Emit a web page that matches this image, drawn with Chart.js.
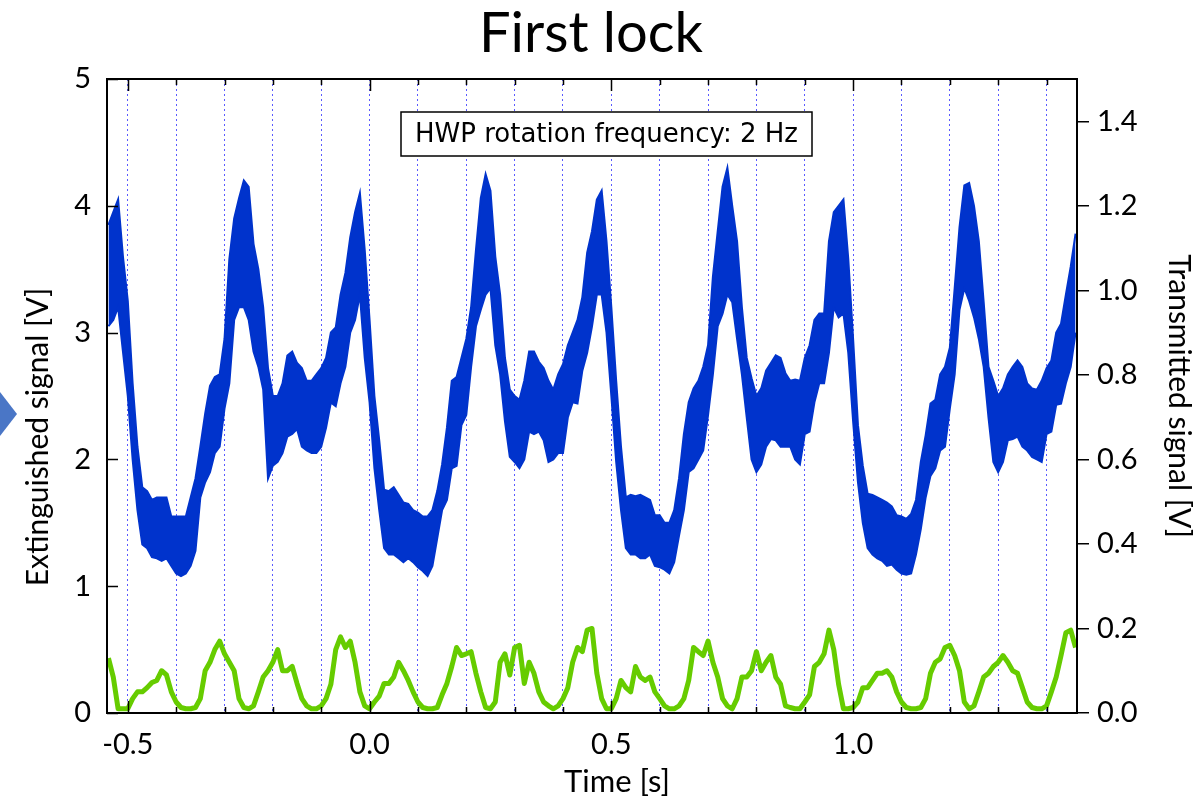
<!DOCTYPE html>
<html>
<head>
<meta charset="utf-8">
<script src="https://cdn.jsdelivr.net/npm/chart.js@4.4.1/dist/chart.umd.min.js"></script>
<style>
  body { margin: 0; background: #fff; }
  #wrap { width: 1203px; height: 801px; }
</style>
</head>
<body>
<div id="wrap"><canvas id="lockChart" width="1203" height="801"></canvas></div>
<script>
// time axis samples [s], every 10 ms
const times = [
  -0.54, -0.53, -0.52, -0.51, -0.50, -0.49, -0.48, -0.47, -0.46, -0.45,
  -0.44, -0.43, -0.42, -0.41, -0.40, -0.39, -0.38, -0.37, -0.36, -0.35,
  -0.34, -0.33, -0.32, -0.31, -0.30, -0.29, -0.28, -0.27, -0.26, -0.25,
  -0.24, -0.23, -0.22, -0.21, -0.20, -0.19, -0.18, -0.17, -0.16, -0.15,
  -0.14, -0.13, -0.12, -0.11, -0.10, -0.09, -0.08, -0.07, -0.06, -0.05,
  -0.04, -0.03, -0.02, -0.01, 0.00, 0.01, 0.02, 0.03, 0.04, 0.05,
  0.06, 0.07, 0.08, 0.09, 0.10, 0.11, 0.12, 0.13, 0.14, 0.15,
  0.16, 0.17, 0.18, 0.19, 0.20, 0.21, 0.22, 0.23, 0.24, 0.25,
  0.26, 0.27, 0.28, 0.29, 0.30, 0.31, 0.32, 0.33, 0.34, 0.35,
  0.36, 0.37, 0.38, 0.39, 0.40, 0.41, 0.42, 0.43, 0.44, 0.45,
  0.46, 0.47, 0.48, 0.49, 0.50, 0.51, 0.52, 0.53, 0.54, 0.55,
  0.56, 0.57, 0.58, 0.59, 0.60, 0.61, 0.62, 0.63, 0.64, 0.65,
  0.66, 0.67, 0.68, 0.69, 0.70, 0.71, 0.72, 0.73, 0.74, 0.75,
  0.76, 0.77, 0.78, 0.79, 0.80, 0.81, 0.82, 0.83, 0.84, 0.85,
  0.86, 0.87, 0.88, 0.89, 0.90, 0.91, 0.92, 0.93, 0.94, 0.95,
  0.96, 0.97, 0.98, 0.99, 1.00, 1.01, 1.02, 1.03, 1.04, 1.05,
  1.06, 1.07, 1.08, 1.09, 1.10, 1.11, 1.12, 1.13, 1.14, 1.15,
  1.16, 1.17, 1.18, 1.19, 1.20, 1.21, 1.22, 1.23, 1.24, 1.25,
  1.26, 1.27, 1.28, 1.29, 1.30, 1.31, 1.32, 1.33, 1.34, 1.35,
  1.36, 1.37, 1.38, 1.39, 1.40, 1.41, 1.42, 1.43, 1.44, 1.45,
  1.46
];

// extinguished signal, upper edge of the noisy trace [V]
const extUpper = [
  3.85, 3.95, 4.05, 3.60, 3.25, 2.60, 2.10, 1.78, 1.75, 1.68,
  1.70, 1.70, 1.70, 1.55, 1.55, 1.55, 1.55, 1.70, 1.85, 2.10,
  2.36, 2.58, 2.65, 2.67, 2.95, 3.58, 3.90, 4.06, 4.20, 4.15,
  3.70, 3.50, 3.20, 2.72, 2.50, 2.50, 2.60, 2.82, 2.85, 2.76,
  2.72, 2.62, 2.62, 2.67, 2.72, 2.80, 3.00, 3.04, 3.30, 3.47,
  3.75, 3.95, 4.10, 3.65, 3.10, 2.50, 2.15, 1.76, 1.75, 1.78,
  1.72, 1.66, 1.65, 1.60, 1.58, 1.55, 1.55, 1.60, 1.75, 1.96,
  2.25, 2.62, 2.65, 2.80, 2.95, 3.20, 3.65, 4.06, 4.25, 4.12,
  3.60, 3.30, 2.80, 2.55, 2.50, 2.47, 2.62, 2.85, 2.85, 2.77,
  2.72, 2.62, 2.55, 2.67, 2.75, 2.90, 3.00, 3.10, 3.28, 3.63,
  3.80, 4.05, 4.12, 3.72, 3.20, 2.62, 2.10, 1.70, 1.72, 1.71,
  1.72, 1.70, 1.68, 1.56, 1.56, 1.50, 1.50, 1.60, 1.85, 2.20,
  2.45, 2.56, 2.62, 2.73, 2.90, 3.44, 3.80, 4.15, 4.30, 4.00,
  3.72, 3.20, 2.80, 2.64, 2.50, 2.56, 2.70, 2.76, 2.82, 2.80,
  2.68, 2.62, 2.63, 2.62, 2.80, 2.90, 3.10, 3.15, 3.15, 3.72,
  3.95, 4.00, 4.05, 3.58, 2.95, 2.27, 1.95, 1.73, 1.72, 1.70,
  1.68, 1.66, 1.63, 1.56, 1.55, 1.53, 1.57, 1.68, 1.98, 2.19,
  2.44, 2.47, 2.67, 2.73, 2.88, 3.35, 3.83, 4.16, 4.18, 4.00,
  3.72, 3.24, 2.73, 2.62, 2.50, 2.56, 2.67, 2.73, 2.78, 2.73,
  2.60, 2.56, 2.55, 2.62, 2.72, 2.78, 3.00, 3.07, 3.30, 3.52,
  3.78
];

// extinguished signal, lower edge of the noisy trace [V]
const extLower = [
  3.05, 3.10, 3.20, 2.85, 2.50, 2.00, 1.60, 1.33, 1.30, 1.23,
  1.22, 1.20, 1.22, 1.16, 1.10, 1.08, 1.10, 1.16, 1.28, 1.70,
  1.82, 1.90, 2.05, 2.10, 2.40, 2.60, 3.10, 3.20, 3.20, 3.10,
  2.85, 2.73, 2.55, 1.85, 1.95, 1.98, 2.05, 2.18, 2.20, 2.24,
  2.10, 2.07, 2.05, 2.05, 2.10, 2.25, 2.45, 2.42, 2.60, 2.73,
  3.00, 3.10, 3.30, 2.80, 2.45, 1.93, 1.60, 1.30, 1.25, 1.25,
  1.22, 1.19, 1.22, 1.19, 1.15, 1.12, 1.08, 1.16, 1.38, 1.60,
  1.68, 1.93, 1.95, 2.27, 2.35, 2.73, 3.05, 3.18, 3.30, 3.35,
  2.90, 2.67, 2.30, 2.02, 1.98, 1.93, 2.00, 2.22, 2.20, 2.22,
  2.15, 1.98, 2.00, 2.05, 2.05, 2.33, 2.45, 2.44, 2.70, 2.84,
  3.05, 3.30, 3.30, 3.00, 2.50, 1.98, 1.60, 1.30, 1.25, 1.25,
  1.22, 1.22, 1.25, 1.16, 1.15, 1.13, 1.10, 1.19, 1.40, 1.60,
  1.90, 1.93, 2.00, 2.07, 2.35, 2.67, 3.05, 3.15, 3.30, 3.24,
  2.95, 2.67, 2.33, 2.00, 1.90, 1.96, 2.10, 2.16, 2.15, 2.10,
  2.10, 2.10, 2.00, 1.96, 2.20, 2.22, 2.45, 2.60, 2.60, 2.84,
  3.20, 3.12, 3.15, 2.84, 2.30, 1.82, 1.50, 1.30, 1.25, 1.22,
  1.20, 1.16, 1.17, 1.13, 1.10, 1.09, 1.10, 1.25, 1.45, 1.70,
  1.87, 1.93, 2.07, 2.10, 2.40, 2.67, 3.18, 3.35, 3.25, 3.12,
  2.95, 2.73, 2.33, 1.98, 1.90, 1.98, 2.15, 2.16, 2.18, 2.10,
  2.07, 2.02, 2.00, 1.98, 2.20, 2.22, 2.43, 2.44, 2.60, 2.73,
  3.00
];

// transmitted signal [V] (right axis)
const transmitted = [
  0.130, 0.085, 0.010, 0.010, 0.010, 0.034, 0.050, 0.050, 0.060, 0.072,
  0.077, 0.100, 0.090, 0.050, 0.026, 0.013, 0.010, 0.010, 0.013, 0.034,
  0.100, 0.120, 0.150, 0.170, 0.140, 0.120, 0.100, 0.034, 0.013, 0.010,
  0.017, 0.050, 0.085, 0.100, 0.120, 0.150, 0.100, 0.100, 0.110, 0.070,
  0.034, 0.017, 0.010, 0.010, 0.017, 0.034, 0.068, 0.150, 0.180, 0.155,
  0.170, 0.120, 0.050, 0.017, 0.010, 0.026, 0.040, 0.070, 0.070, 0.085,
  0.120, 0.100, 0.077, 0.050, 0.026, 0.013, 0.010, 0.010, 0.013, 0.043,
  0.070, 0.110, 0.155, 0.136, 0.140, 0.145, 0.094, 0.050, 0.013, 0.010,
  0.026, 0.120, 0.140, 0.090, 0.155, 0.160, 0.070, 0.120, 0.094, 0.050,
  0.026, 0.017, 0.010, 0.017, 0.034, 0.060, 0.120, 0.155, 0.145, 0.196,
  0.200, 0.094, 0.034, 0.010, 0.010, 0.034, 0.077, 0.060, 0.050, 0.110,
  0.085, 0.077, 0.085, 0.050, 0.034, 0.017, 0.010, 0.010, 0.017, 0.034,
  0.077, 0.155, 0.145, 0.136, 0.170, 0.120, 0.085, 0.034, 0.017, 0.010,
  0.034, 0.085, 0.085, 0.100, 0.145, 0.100, 0.120, 0.136, 0.085, 0.068,
  0.017, 0.013, 0.010, 0.010, 0.026, 0.043, 0.110, 0.120, 0.140, 0.196,
  0.150, 0.068, 0.010, 0.010, 0.013, 0.026, 0.060, 0.060, 0.077, 0.094,
  0.094, 0.100, 0.085, 0.050, 0.026, 0.013, 0.010, 0.010, 0.013, 0.034,
  0.094, 0.120, 0.128, 0.155, 0.160, 0.136, 0.100, 0.026, 0.010, 0.017,
  0.050, 0.085, 0.094, 0.110, 0.120, 0.136, 0.120, 0.100, 0.094, 0.060,
  0.026, 0.013, 0.010, 0.010, 0.017, 0.050, 0.085, 0.136, 0.190, 0.196,
  0.155
];

const xTicks = [-0.5, -0.4, -0.3, -0.2, -0.1, 0.0, 0.1, 0.2, 0.3, 0.4,
                0.5, 0.6, 0.7, 0.8, 0.9, 1.0, 1.1, 1.2, 1.3, 1.4];
const xLabelTicks = [-0.5, 0.0, 0.5, 1.0];
const leftTicks = [0, 1, 2, 3, 4, 5];
const rightTicks = [0.0, 0.2, 0.4, 0.6, 0.8, 1.0, 1.2, 1.4];

const titleText = "First lock";
const noteText = "HWP rotation frequency: 2 Hz";
const leftTitle = "Extinguished signal [V]";
const rightTitle = "Transmitted signal [V]";
const bottomTitle = "Time [s]";

const BLUE = "#0033cc";
const GREEN = "#66cc00";
const FONT = "Lato";

function toPoints(ys) {
    return times.map((t, i) => ({ x: t, y: ys[i] }));
}

function isLabelTick(v) {
    return xLabelTicks.some(m => Math.abs(m - v) < 1e-6);
}

// frame, inward ticks, titles, note box and the slide marker
const decor = {
    id: "decor",
    afterDraw(chart) {
        const { ctx, chartArea: a, scales } = chart;
        const xs = scales.x, yl = scales.y;
        ctx.save();

        ctx.strokeStyle = "#000";
        ctx.lineWidth = 2;
        ctx.strokeRect(a.left, a.top, a.right - a.left, a.bottom - a.top);

        ctx.lineWidth = 1.5;
        ctx.beginPath();
        leftTicks.forEach(v => {
            const y = Math.round(yl.getPixelForValue(v)) + 0.5;
            ctx.moveTo(a.left, y);
            ctx.lineTo(a.left + 11, y);
        });
        xTicks.forEach(v => {
            const x = Math.round(xs.getPixelForValue(v)) + 0.5;
            const len = isLabelTick(v) ? 12 : 6;
            ctx.moveTo(x, a.bottom);
            ctx.lineTo(x, a.bottom - len);
            ctx.moveTo(x, a.top);
            ctx.lineTo(x, a.top + len);
        });
        ctx.stroke();

        // note box
        const bx = a.left + 294, by = a.top + 33, bw = 411, bh = 44;
        ctx.fillStyle = "#fff";
        ctx.fillRect(bx, by, bw, bh);
        ctx.lineWidth = 1.5;
        ctx.strokeRect(bx, by, bw, bh);
        ctx.fillStyle = "#000";
        ctx.font = "26px 'DejaVu Sans'";
        ctx.textAlign = "center";
        ctx.textBaseline = "middle";
        ctx.fillText(noteText, bx + bw / 2, by + bh / 2 + 1);

        // chart title
        ctx.font = "56px " + FONT;
        ctx.textBaseline = "alphabetic";
        ctx.fillText(titleText, 591, 52);

        // bottom axis title
        ctx.font = "31px " + FONT;
        ctx.textBaseline = "middle";
        ctx.fillText(bottomTitle, 617, 782);

        // left axis title
        ctx.save();
        ctx.translate(38, 437);
        ctx.rotate(-Math.PI / 2);
        ctx.font = "30px " + FONT;
        ctx.textBaseline = "middle";
        ctx.fillText(leftTitle, 0, 0);
        ctx.restore();

        // marker left over from the slide
        ctx.fillStyle = "#4a76c6";
        ctx.beginPath();
        ctx.moveTo(0, 392);
        ctx.lineTo(17, 414);
        ctx.lineTo(0, 436);
        ctx.closePath();
        ctx.fill();

        ctx.restore();
    }
};

const ctx = document.getElementById("lockChart").getContext("2d");
new Chart(ctx, {
    type: "line",
    data: {
        datasets: [
            {
                label: "Transmitted",
                data: toPoints(transmitted),
                yAxisID: "y2",
                borderColor: GREEN,
                borderWidth: 5,
                borderJoinStyle: "round",
                pointRadius: 0,
                fill: false,
                tension: 0
            },
            {
                label: "Extinguished (max)",
                data: toPoints(extUpper),
                yAxisID: "y",
                borderColor: BLUE,
                borderWidth: 2,
                pointRadius: 0,
                fill: false,
                tension: 0
            },
            {
                label: "Extinguished (min)",
                data: toPoints(extLower),
                yAxisID: "y",
                borderColor: BLUE,
                backgroundColor: BLUE,
                borderWidth: 2,
                pointRadius: 0,
                fill: "-1",
                tension: 0
            }
        ]
    },
    options: {
        responsive: false,
        animation: false,
        layout: { padding: { top: 79, left: 0, right: 0, bottom: 0 } },
        plugins: {
            legend: { display: false },
            tooltip: { enabled: false },
            title: { display: false }
        },
        scales: {
            x: {
                type: "linear",
                min: -0.543,
                max: 1.463,
                afterBuildTicks: s => { s.ticks = xTicks.map(v => ({ value: v })); },
                afterFit: s => { s.height = 88; },
                grid: { display: true, drawOnChartArea: true, drawTicks: false, color: "#5a5aff", lineWidth: 1 },
                border: { display: false, dash: [2, 3] },
                ticks: {
                    autoSkip: false,
                    maxRotation: 0,
                    padding: 14,
                    color: "#000",
                    font: { family: FONT, size: 29 },
                    callback: v => isLabelTick(v) ? v.toFixed(1) : ""
                },
                title: { display: false }
            },
            y: {
                position: "left",
                min: 0,
                max: 5,
                afterBuildTicks: s => { s.ticks = leftTicks.map(v => ({ value: v })); },
                afterFit: s => { s.width = 107; },
                grid: { display: false },
                border: { display: false },
                ticks: { padding: 8, color: "#000", font: { family: FONT, size: 29 } }
            },
            y2: {
                position: "right",
                min: 0,
                max: 1.5,
                afterBuildTicks: s => { s.ticks = rightTicks.map(v => ({ value: v })); },
                afterFit: s => { s.width = 126; },
                grid: { display: true, drawOnChartArea: false, drawTicks: true, tickLength: 12, color: "#000", lineWidth: 1.5 },
                border: { display: false },
                ticks: {
                    padding: 8,
                    color: "#000",
                    font: { family: FONT, size: 29 },
                    callback: v => v.toFixed(1)
                },
                title: {
                    display: true,
                    text: rightTitle,
                    color: "#000",
                    font: { family: FONT, size: 30 },
                    padding: { top: 6, bottom: 0 }
                }
            }
        }
    },
    plugins: [decor]
});
</script>
</body>
</html>
